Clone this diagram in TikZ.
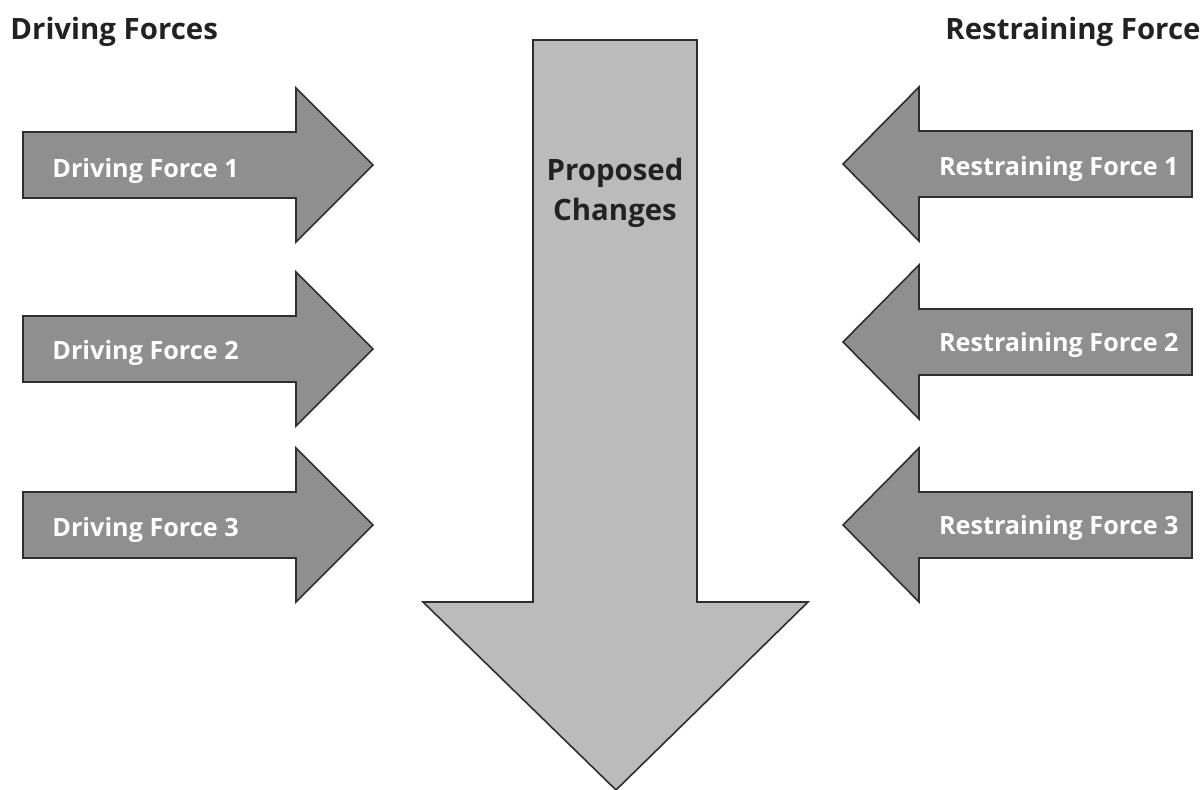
\documentclass[tikz,border=0pt]{standalone}
\usepackage{fontspec}
\setmainfont{Open Sans}
\definecolor{sidefill}{HTML}{8F8F8F}
\definecolor{midfill}{HTML}{BBBBBB}
\definecolor{edge}{HTML}{2E2E2E}
\definecolor{ink}{HTML}{222222}
\begin{document}
\begin{tikzpicture}[x=0.5pt,y=-0.5pt,
  arrowshape/.style={draw=edge,line width=0.8pt,line join=miter},
  sidearrow/.style={arrowshape,fill=sidefill},
  midarrow/.style={arrowshape,fill=midfill},
  inlabel/.style={text=white,font=\bfseries\fontsize{12.6}{15}\selectfont,inner sep=0pt},
  title/.style={text=ink,font=\bfseries\fontsize{14.7}{17}\selectfont,inner sep=0pt},
  midlabel/.style={text=ink,font=\bfseries\fontsize{14.7}{20}\selectfont,align=center,inner sep=0pt}]
\useasboundingbox (0,0) rectangle (1203,790);
% central arrow
\draw[midarrow] (533,40) -- (697,40) -- (697,602) -- (808,602) -- (616,790) -- (423,602) -- (533,602) -- cycle;
% left arrows
\foreach \c in {165,349,525}{
  \draw[sidearrow] (23,\c-33) -- (296,\c-33) -- (296,\c-77) -- (373,\c) -- (296,\c+77) -- (296,\c+33) -- (23,\c+33) -- cycle;
}
% right arrows
\foreach \c in {164,342,525}{
  \draw[sidearrow] (1192,\c-33) -- (919,\c-33) -- (919,\c-77) -- (843,\c) -- (919,\c+77) -- (919,\c+33) -- (1192,\c+33) -- cycle;
}
\node[title,anchor=west] (tl) at (10,32) {Driving Forces};
\node[title,anchor=west] (tr) at (945,32) {Restraining Force};
\node[midlabel] (pc) at (615,193) {Proposed\\Changes};
\node[inlabel,anchor=west] (d1) at (52,171) {Driving Force 1};
\node[inlabel,anchor=west] (d2) at (52,353) {Driving Force 2};
\node[inlabel,anchor=west] (d3) at (52,530) {Driving Force 3};
\node[inlabel,anchor=east] (r1) at (1179,169) {Restraining Force 1};
\node[inlabel,anchor=east] (r2) at (1179,345) {Restraining Force 2};
\node[inlabel,anchor=east] (r3) at (1179,528) {Restraining Force 3};
\end{tikzpicture}
\end{document}
